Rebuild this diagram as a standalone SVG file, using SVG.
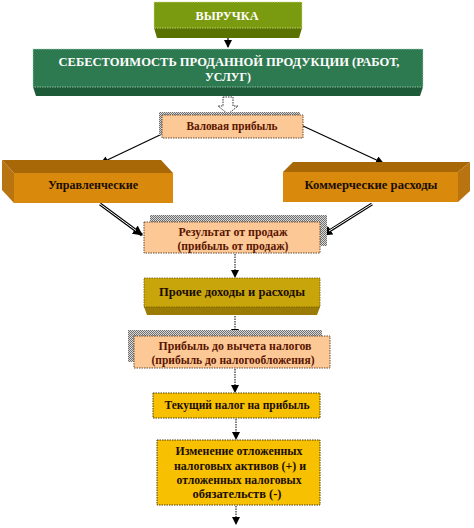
<svg xmlns="http://www.w3.org/2000/svg" width="474" height="528" viewBox="0 0 474 528">
<style>
text{font-family:"Liberation Serif","Times New Roman",serif;font-weight:bold;font-size:11.5px;text-anchor:middle}
.w{fill:#ffffff;font-size:12px}
.r{fill:#5a1400}
.k{fill:#1a0d00}
.peach{fill:#fbc896;stroke:#6b4a30;stroke-width:1;stroke-dasharray:1.5 1}
.gold{fill:#f7c000;stroke:#4a3a00;stroke-width:1;stroke-dasharray:1.5 1}
.sh{fill:url(#hatch)}
.ln{stroke:#000;stroke-width:1.2;fill:none}
.dl{stroke:#000;stroke-width:1;fill:none;stroke-dasharray:1.5 1}
</style>
<defs>
<pattern id="hatch" width="2" height="2" patternUnits="userSpaceOnUse">
<rect width="2" height="2" fill="#d8d8d8"/>
<rect width="1" height="1" fill="#707070"/>
<rect x="1" y="1" width="1" height="1" fill="#707070"/>
</pattern>
<marker id="ah" markerWidth="8" markerHeight="8" refX="7" refY="4" orient="auto" markerUnits="userSpaceOnUse">
<path d="M0,0 L8,4 L0,8 Z" fill="#000"/>
</marker>
<marker id="ah2" markerWidth="10" markerHeight="10" refX="9" refY="5" orient="auto" markerUnits="userSpaceOnUse">
<path d="M0,0 L10,5 L0,10 Z" fill="#000"/>
</marker>
</defs>
<rect width="474" height="528" fill="#ffffff"/>

<g id="connectors">
<line class="ln" x1="228" y1="32" x2="228" y2="47" marker-end="url(#ah)"/>
<path d="M223,97 L233,97 L233,106 L238,106 L228,114 L218,106 L223,106 Z" fill="#ffffff" stroke="#333" stroke-width="1" stroke-dasharray="1.5 1"/>
<line class="ln" x1="162" y1="134" x2="101" y2="163" marker-end="url(#ah)"/>
<line class="ln" x1="303" y1="126" x2="383" y2="163" marker-end="url(#ah)"/>
<line x1="100" y1="204" x2="142" y2="235" stroke="#000" stroke-width="3.2" marker-end="url(#ah2)"/>
<line x1="100" y1="204" x2="136" y2="230.5" stroke="#fff" stroke-width="1"/>
<line x1="372" y1="204" x2="323" y2="235" stroke="#000" stroke-width="3.2" marker-end="url(#ah2)"/>
<line x1="372" y1="204" x2="329" y2="231" stroke="#fff" stroke-width="1"/>
<line class="dl" x1="235" y1="254" x2="235" y2="277" marker-end="url(#ah)"/>
<line class="dl" x1="235" y1="316" x2="235" y2="336" marker-end="url(#ah)"/>
<line class="dl" x1="235" y1="369" x2="235" y2="392" marker-end="url(#ah)"/>
<line class="dl" x1="236" y1="419" x2="236" y2="439" marker-end="url(#ah)"/>
<line class="dl" x1="236" y1="506" x2="236" y2="524" marker-end="url(#ah)"/>
</g>

<g id="n-vyruchka">
<path d="M154,28 L302,28 L299,38 L157,38 Z" fill="#5a7300"/>
<rect x="154" y="2" width="148" height="26" fill="#7a9a10" stroke="#cfe08a" stroke-width="0.8" stroke-dasharray="1.5 1"/>
<text class="w" x="227" y="20" textLength="63" lengthAdjust="spacingAndGlyphs">ВЫРУЧКА</text>
</g>

<g id="n-sebestoimost">
<path d="M33,87 L423,87 L420,96 L36,96 Z" fill="#1d5a38"/>
<rect x="33" y="49" width="390" height="38" fill="#2e7a50" stroke="#a8d0b8" stroke-width="0.8" stroke-dasharray="1.5 1"/>
<text class="w" x="229" y="66" textLength="341" lengthAdjust="spacingAndGlyphs">СЕБЕСТОИМОСТЬ  ПРОДАННОЙ  ПРОДУКЦИИ (РАБОТ,</text>
<text class="w" x="228" y="81" textLength="46" lengthAdjust="spacingAndGlyphs">УСЛУГ)</text>
</g>

<g id="n-valovaya">
<rect class="sh" x="159" y="112" width="141" height="23"/>
<rect class="peach" x="162" y="115" width="141" height="23"/>
<text class="r" x="232" y="130" textLength="91" lengthAdjust="spacingAndGlyphs">Валовая прибыль</text>
</g>

<g id="n-upravl">
<path d="M2,160 L161,160 L173,173 L14,173 Z" fill="#a86808"/>
<path d="M2,160 L14,173 L14,203 L2,190 Z" fill="#b87410"/>
<rect x="14" y="173" width="159" height="30" fill="#d98a0c"/>
<text class="k" x="93" y="189" textLength="90" lengthAdjust="spacingAndGlyphs">Управленческие</text>
</g>

<g id="n-kommerch">
<path d="M293,162 L470,162 L458,172 L283,172 Z" fill="#a86808"/>
<path d="M458,172 L470,162 L470,191 L458,202 Z" fill="#b87410"/>
<rect x="283" y="172" width="175" height="30" fill="#d98a0c"/>
<text class="k" x="371" y="189" textLength="133" lengthAdjust="spacingAndGlyphs">Коммерческие расходы</text>
</g>

<g id="n-rezultat">
<rect class="sh" x="150" y="215" width="177" height="31"/>
<rect class="peach" x="144" y="222" width="176" height="31"/>
<text class="r" x="233" y="236" textLength="109" lengthAdjust="spacingAndGlyphs">Результат  от продаж</text>
<text class="r" x="233" y="250" textLength="111" lengthAdjust="spacingAndGlyphs">(прибыль от продаж)</text>
</g>

<g id="n-prochie">
<path d="M144,307 L320,307 L317,315 L147,315 Z" fill="#9a7c04"/>
<rect x="144" y="278" width="176" height="29" fill="#c9a50c" stroke="#6a5500" stroke-width="0.8" stroke-dasharray="1.5 1"/>
<text class="k" x="232" y="296" textLength="146" lengthAdjust="spacingAndGlyphs">Прочие доходы и расходы</text>
</g>

<g id="n-do-nalogov">
<rect class="sh" x="128" y="330" width="194" height="32"/>
<rect class="peach" x="134" y="336" width="196" height="32"/>
<text class="r" x="235" y="350" textLength="153" lengthAdjust="spacingAndGlyphs">Прибыль до вычета налогов</text>
<text class="r" x="233" y="364" textLength="163" lengthAdjust="spacingAndGlyphs">(прибыль до налогообложения)</text>
</g>

<g id="n-tekushiy">
<rect class="gold" x="153" y="393" width="167" height="25"/>
<text class="k" x="237" y="409" textLength="145" lengthAdjust="spacingAndGlyphs">Текущий  налог на прибыль</text>
</g>

<g id="n-izmenenie">
<rect class="gold" x="157" y="440" width="163" height="65"/>
<text class="k" x="239" y="455" textLength="127" lengthAdjust="spacingAndGlyphs">Изменение отложенных</text>
<text class="k" x="240" y="470" textLength="132" lengthAdjust="spacingAndGlyphs">налоговых активов (+) и</text>
<text class="k" x="239" y="484" textLength="125" lengthAdjust="spacingAndGlyphs">отложенных налоговых</text>
<text class="k" x="237" y="498" textLength="89" lengthAdjust="spacingAndGlyphs">обязательств (-)</text>
</g>
</svg>
